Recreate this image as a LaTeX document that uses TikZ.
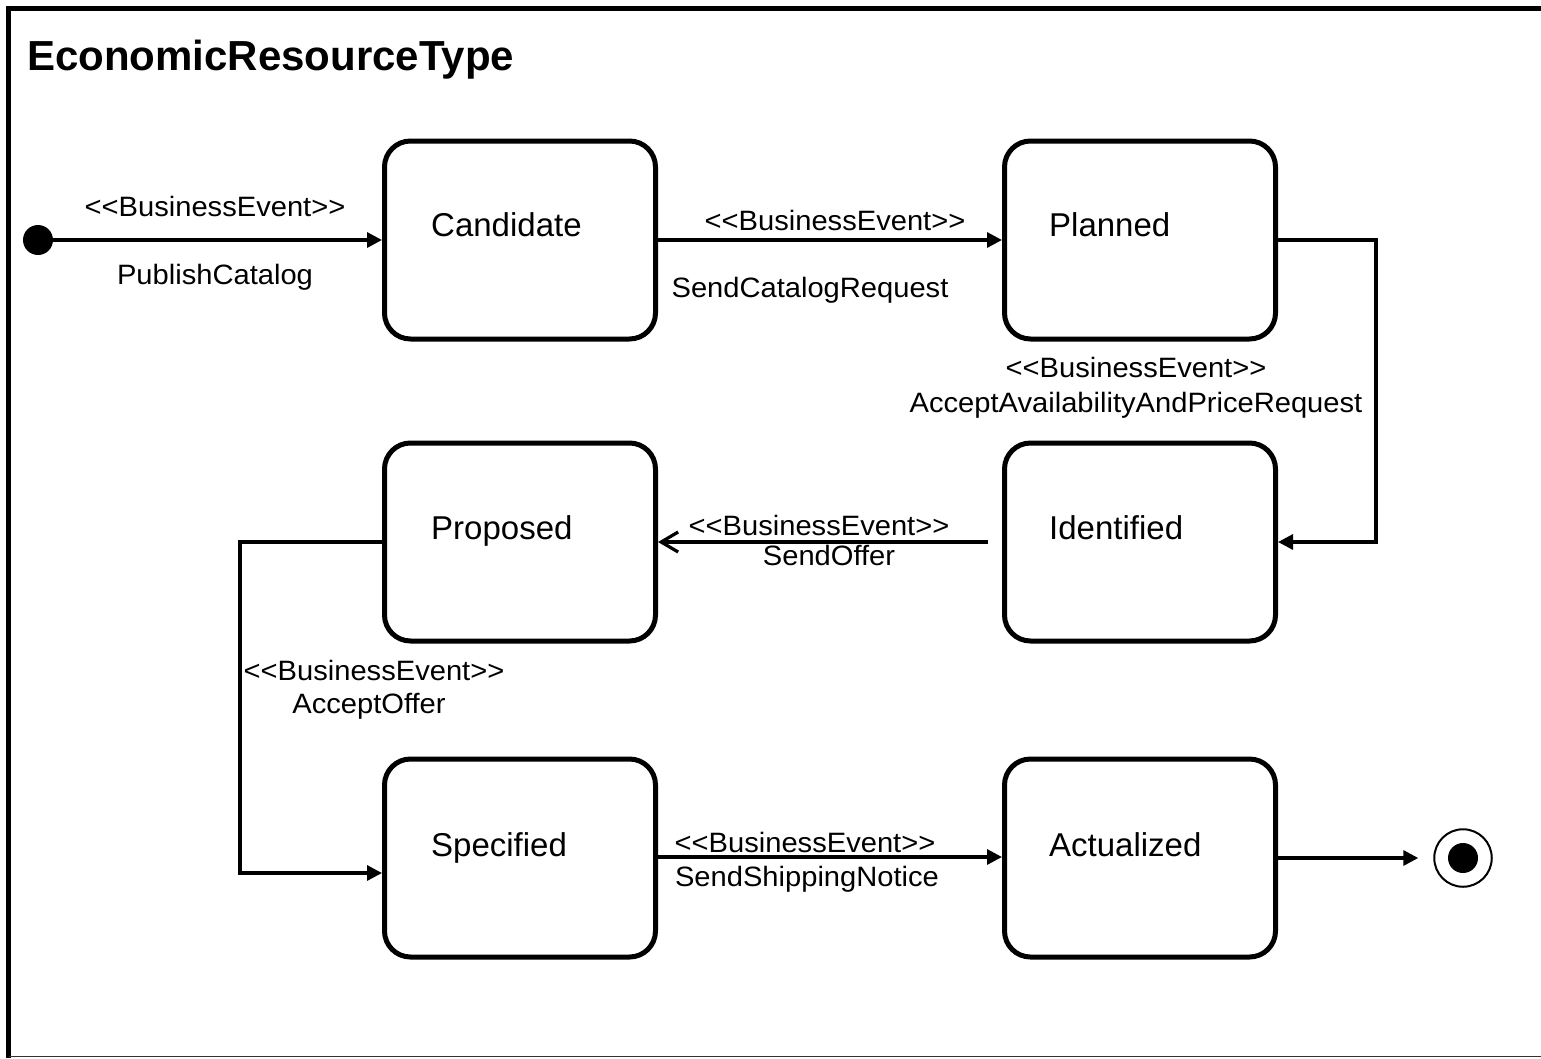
\documentclass[tikz,border=0pt]{standalone}
\usepackage{fontspec}
\setmainfont{Liberation Sans}
\newfontfamily\evtfont{Liberation Sans}[FakeStretch=1.04]
\usetikzlibrary{arrows.meta}
\begin{document}
\begin{tikzpicture}[x=1pt,y=-1pt,
  state/.style={draw, line width=5pt, rounded corners=26pt,
    minimum width=271pt, minimum height=198pt, inner sep=0pt},
  statename/.style={anchor=base west, inner sep=0pt,
    font=\fontsize{33}{40}\selectfont},
  trans/.style={line width=3.2pt, -{Triangle[length=15pt,width=15pt]}},
  opentrans/.style={line width=3.2pt, -{Straight Barb[length=17pt,width=20pt]}},
  evt/.style={anchor=base, inner sep=0pt, font=\evtfont\fontsize{28}{32}\selectfont},
  pseudo/.style={circle, fill, inner sep=0pt, minimum size=30pt},
]
\useasboundingbox (0,0) rectangle (1541,1058);

% outer frame
\draw[line width=5.5pt] (8.6,1058) -- (8.6,8.6) -- (1541,8.6);
\draw[line width=1.5pt, black!80] (8.6,1056.5) -- (1541,1056.5);

% title
\node[anchor=base west, inner sep=0pt, font=\bfseries\fontsize{42}{48}\selectfont]
  (title) at (27,70) {EconomicResourceType};

% states
\node[state] (cand)  at (520,240) {};
\node[state] (plan)  at (1140,240) {};
\node[state] (prop)  at (520,542) {};
\node[state] (ident) at (1140,542) {};
\node[state] (spec)  at (520,858) {};
\node[state] (act)   at (1140,858) {};

\node[statename] (candT)  at (431,236.5) {Candidate};
\node[statename] (planT)  at (1049,236.5) {Planned};
\node[statename] (propT)  at (431,539.5) {Proposed};
\node[statename] (identT) at (1049,539.5) {Identified};
\node[statename] (specT)  at (431,856.5) {Specified};
\node[statename] (actT)   at (1049,856.5) {Actualized};

% pseudo states
\node[pseudo] (init) at (38,240) {};
\node[circle, draw, line width=2pt, minimum size=57.5pt, inner sep=0pt] (final) at (1463,858) {};
\node[pseudo] (finaldot) at (final.center) {};

% transitions
\draw[trans] (init) -- (cand.west);
\draw[trans] (cand.east) -- (plan.west);
\draw[trans] (plan.east) -- ++(98,0) |- (ident.east);
\coordinate (offerstart) at ([xshift=-14pt]ident.west);
\draw[opentrans] (offerstart) -- (prop.east);
\coordinate (specin) at ([yshift=-15pt]spec.west);
\draw[trans] (prop.west) -- ++(-142,0) |- (specin);
\draw[trans] ([yshift=1pt]spec.east) -- ([yshift=1pt]act.west);
\coordinate (finalin) at ([xshift=-15pt]final.west);
\draw[trans] (act.east) -- (finalin);

% transition labels
\node[evt] (l1a) at (215,216) {<<BusinessEvent>>};
\node[evt] (l1b) at (215,284) {PublishCatalog};
\node[evt] (l2a) at (835,230) {<<BusinessEvent>>};
\node[evt] (l2b) at (810,297) {SendCatalogRequest};
\node[evt] (l3a) at (1136,377) {<<BusinessEvent>>};
\node[evt] (l3b) at (1136,412) {AcceptAvailabilityAndPriceRequest};
\node[evt] (l4a) at (819,535) {<<BusinessEvent>>};
\node[evt] (l4b) at (829,565) {SendOffer};
\node[evt] (l5a) at (374,680) {<<BusinessEvent>>};
\node[evt] (l5b) at (369,713) {AcceptOffer};
\node[evt] (l6a) at (805,852) {<<BusinessEvent>>};
\node[evt] (l6b) at (807,886) {SendShippingNotice};
\end{tikzpicture}
\end{document}
